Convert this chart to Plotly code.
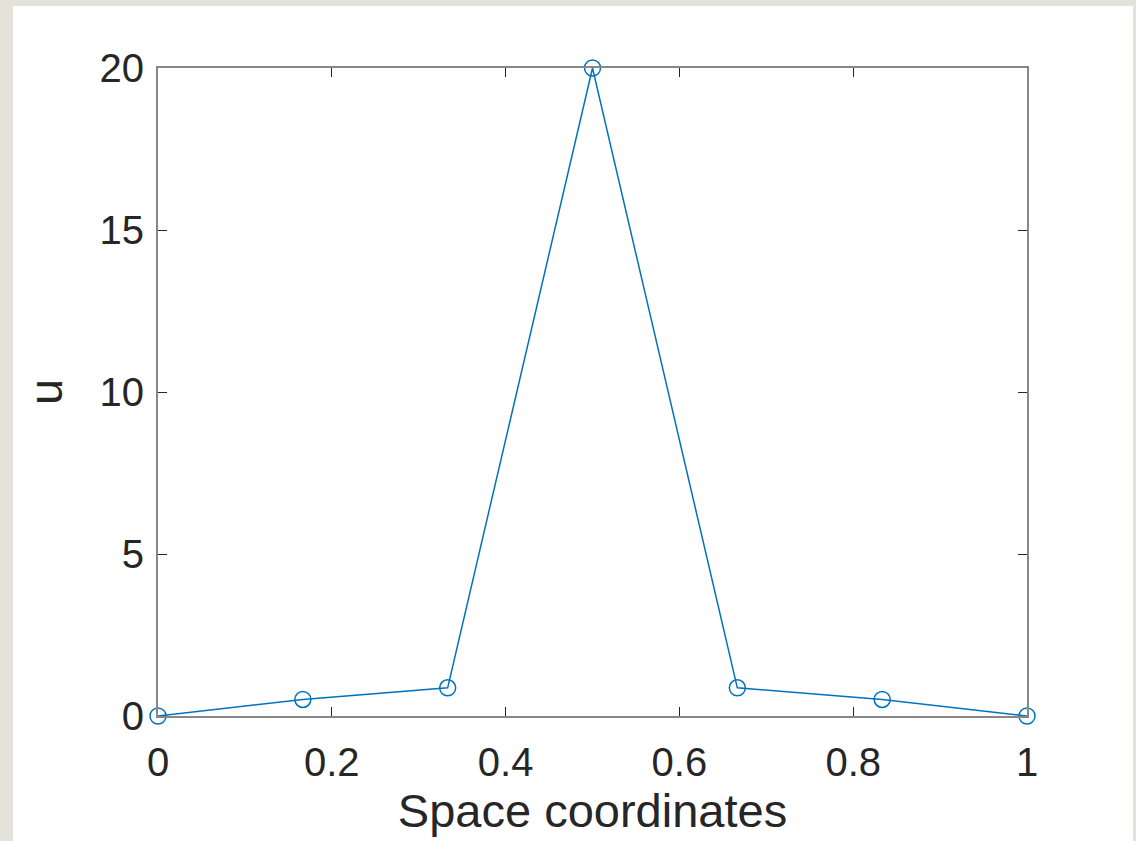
import plotly.graph_objects as go

# Space coordinates and solution values u
x_vals = [0, 1/6, 2/6, 3/6, 4/6, 5/6, 1]
u_vals = [0, 0.51, 0.87, 20, 0.87, 0.51, 0]

x_ticks = [0, 0.2, 0.4, 0.6, 0.8, 1]
x_tick_text = ["0", "0.2", "0.4", "0.6", "0.8", "1"]
y_ticks = [0, 5, 10, 15, 20]
y_tick_text = ["0", "5", "10", "15", "20"]

W, H = 1136, 841
L, R, T, B = 158, 1136 - 1027, 68, 841 - 716
pw, ph = W - L - R, H - T - B

line_color = "#0072BD"
axis_color = "#878787"
text_color = "#262626"
font_family = "Liberation Sans, Arial, sans-serif"

fig = go.Figure()
fig.add_trace(go.Scatter(
    x=x_vals, y=u_vals, mode="lines+markers", cliponaxis=False,
    line=dict(color=line_color, width=1.5),
    marker=dict(symbol="circle-open", size=16, color=line_color,
                line=dict(width=1.5, color=line_color)),
    showlegend=False, hoverinfo="skip",
))

# white figure panel on the grey window background
fig.add_shape(type="rect", xref="paper", yref="paper", layer="below",
              x0=(13 - L) / pw, x1=(1133 - L) / pw,
              y0=(T + ph - H - 5) / ph, y1=(T + ph - 6) / ph,
              fillcolor="white", line=dict(width=0))

axis_common = dict(
    showgrid=False, zeroline=False, showline=True, mirror="ticks",
    linecolor=axis_color, linewidth=2, ticks="inside", ticklen=9,
    tickwidth=1.2, tickcolor=text_color,
    tickfont=dict(family=font_family, size=40, color=text_color),
)

fig.update_xaxes(range=[0, 1], tickvals=x_ticks, ticktext=x_tick_text,
                 ticklabelstandoff=10,
                 title=dict(text="Space coordinates", standoff=8,
                            font=dict(family=font_family, size=47, color=text_color)),
                 **axis_common)
fig.update_yaxes(range=[0, 20], tickvals=y_ticks, ticktext=y_tick_text,
                 ticklabelstandoff=4,
                 title=dict(text="u", standoff=22,
                            font=dict(family=font_family, size=47, color=text_color)),
                 **axis_common)

fig.update_layout(
    width=W, height=H,
    margin=dict(l=L, r=R, t=T, b=B, pad=0),
    paper_bgcolor="#e3e3d9", plot_bgcolor="white",
)

fig.write_html("out.html")
